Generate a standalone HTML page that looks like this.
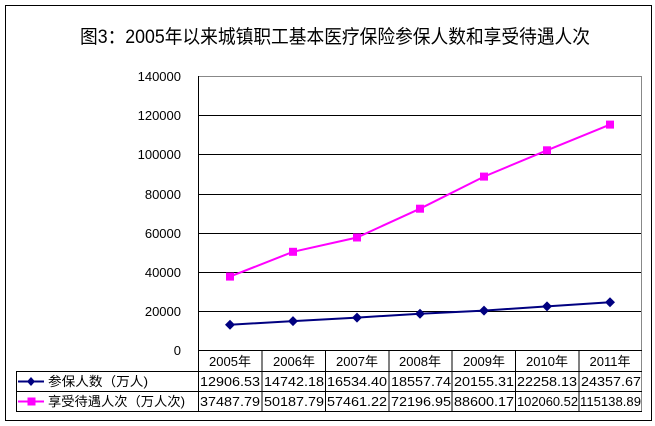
<!DOCTYPE html>
<html><head><meta charset="utf-8"><style>
html,body{margin:0;padding:0;background:#fff;}
svg{display:block;}
text{font-family:"Liberation Sans","Noto Sans CJK SC",sans-serif;fill:#000;}
</style></head><body>
<svg width="655" height="426" viewBox="0 0 655 426" xmlns="http://www.w3.org/2000/svg">
<rect x="5.5" y="5.5" width="646" height="415" fill="#fff" stroke="#000" stroke-width="1"/>
<text x="80" y="43" font-size="19" textLength="510" lengthAdjust="spacingAndGlyphs">图3：2005年以来城镇职工基本医疗保险参保人数和享受待遇人次</text>
<g stroke="#000" stroke-width="1">
<line x1="198" y1="76.5" x2="642" y2="76.5" stroke="#888"/>
<line x1="198" y1="115.5" x2="642" y2="115.5"/>
<line x1="198" y1="154.5" x2="642" y2="154.5"/>
<line x1="198" y1="194.5" x2="642" y2="194.5"/>
<line x1="198" y1="233.5" x2="642" y2="233.5"/>
<line x1="198" y1="272.5" x2="642" y2="272.5"/>
<line x1="198" y1="311.5" x2="642" y2="311.5"/>
<line x1="198.5" y1="76" x2="198.5" y2="411"/>
<line x1="641.5" y1="76" x2="641.5" y2="411" stroke="#888"/>
<line x1="198" y1="350.5" x2="642" y2="350.5"/>
<line x1="16" y1="371.5" x2="642" y2="371.5"/>
<line x1="16" y1="391.5" x2="642" y2="391.5"/>
<line x1="16" y1="411.5" x2="642" y2="411.5"/>
<line x1="16.5" y1="371" x2="16.5" y2="411"/>
<line x1="262" y1="350" x2="262" y2="411"/>
<line x1="325.5" y1="350" x2="325.5" y2="411"/>
<line x1="389" y1="350" x2="389" y2="411"/>
<line x1="452" y1="350" x2="452" y2="411"/>
<line x1="515.5" y1="350" x2="515.5" y2="411"/>
<line x1="579" y1="350" x2="579" y2="411"/>
</g>
<g font-size="13" text-anchor="end">
<text x="181" y="81">140000</text>
<text x="181" y="120">120000</text>
<text x="181" y="159">100000</text>
<text x="181" y="199">80000</text>
<text x="181" y="238">60000</text>
<text x="181" y="277">40000</text>
<text x="181" y="316">20000</text>
<text x="181" y="355">0</text>
</g>
<g font-size="13" text-anchor="middle">
<text x="230" y="366">2005年</text><text x="294" y="366">2006年</text><text x="357" y="366">2007年</text><text x="420" y="366">2008年</text><text x="484" y="366">2009年</text><text x="547" y="366">2010年</text><text x="610" y="366">2011年</text>
</g>
<g font-size="13">
<text x="200" y="386" textLength="60" lengthAdjust="spacingAndGlyphs">12906.53</text>
<text x="264" y="386" textLength="60" lengthAdjust="spacingAndGlyphs">14742.18</text>
<text x="327" y="386" textLength="60" lengthAdjust="spacingAndGlyphs">16534.40</text>
<text x="391" y="386" textLength="60" lengthAdjust="spacingAndGlyphs">18557.74</text>
<text x="454" y="386" textLength="60" lengthAdjust="spacingAndGlyphs">20155.31</text>
<text x="517" y="386" textLength="60" lengthAdjust="spacingAndGlyphs">22258.13</text>
<text x="581" y="386" textLength="60" lengthAdjust="spacingAndGlyphs">24357.67</text>
<text x="200" y="406" textLength="60" lengthAdjust="spacingAndGlyphs">37487.79</text>
<text x="264" y="406" textLength="60" lengthAdjust="spacingAndGlyphs">50187.79</text>
<text x="327" y="406" textLength="60" lengthAdjust="spacingAndGlyphs">57461.22</text>
<text x="391" y="406" textLength="60" lengthAdjust="spacingAndGlyphs">72196.95</text>
<text x="454" y="406" textLength="60" lengthAdjust="spacingAndGlyphs">88600.17</text>
<text x="517" y="406" textLength="61" lengthAdjust="spacingAndGlyphs">102060.52</text>
<text x="580" y="406" textLength="61" lengthAdjust="spacingAndGlyphs">115138.89</text>
<text x="48" y="386" textLength="100" lengthAdjust="spacingAndGlyphs">参保人数（万人)</text>
<text x="48" y="406" textLength="137" lengthAdjust="spacingAndGlyphs">享受待遇人次（万人次)</text>
</g>
<line x1="18" y1="381.5" x2="44" y2="381.5" stroke="#000080" stroke-width="2"/>
<polygon points="31,377 35,381.5 31,386 27,381.5" fill="#000080"/>
<line x1="18" y1="401.5" x2="44" y2="401.5" stroke="#ff00ff" stroke-width="2"/>
<rect x="27.5" y="397.5" width="8" height="8" fill="#ff00ff"/>
<polyline points="230,276.6 293,251.8 357,237.5 420,208.7 484,176.6 547,150.3 610,124.6" fill="none" stroke="#ff00ff" stroke-width="2"/>
<g fill="#ff00ff">
<rect x="226" y="272.6" width="8" height="8"/><rect x="289" y="247.8" width="8" height="8"/><rect x="353" y="233.5" width="8" height="8"/><rect x="416" y="204.7" width="8" height="8"/><rect x="480" y="172.6" width="8" height="8"/><rect x="543" y="146.3" width="8" height="8"/><rect x="606" y="120.6" width="8" height="8"/>
</g>
<polyline points="230,324.7 293,321.1 357,317.6 420,313.7 484,310.6 547,306.4 610,302.3" fill="none" stroke="#000080" stroke-width="2"/>
<g fill="#000080">
<polygon points="230,319.7 235,324.7 230,329.7 225,324.7"/>
<polygon points="293,316.1 298,321.1 293,326.1 288,321.1"/>
<polygon points="357,312.6 362,317.6 357,322.6 352,317.6"/>
<polygon points="420,308.7 425,313.7 420,318.7 415,313.7"/>
<polygon points="484,305.6 489,310.6 484,315.6 479,310.6"/>
<polygon points="547,301.4 552,306.4 547,311.4 542,306.4"/>
<polygon points="610,297.3 615,302.3 610,307.3 605,302.3"/>
</g>
</svg>
</body></html>
